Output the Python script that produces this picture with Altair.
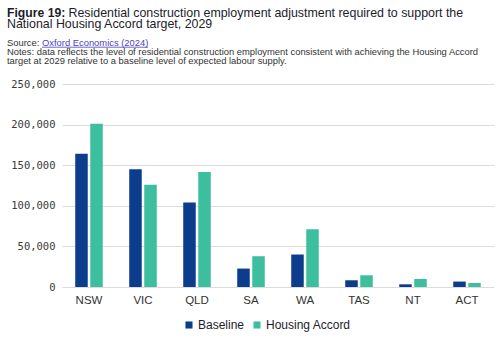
import altair as alt
import pandas as pd

# Residential construction employment by state, 2029
states = ["NSW", "VIC", "QLD", "SA", "WA", "TAS", "NT", "ACT"]
baseline = [164000, 145000, 104000, 22700, 40000, 8300, 3300, 6700]
housing_accord = [201000, 126000, 141600, 37900, 71200, 14400, 9900, 4900]
series_names = ["Baseline", "Housing Accord"]
series_colors = ["#0b3d8c", "#3dbf9f"]
y_ticks = [0, 50000, 100000, 150000, 200000, 250000]

rows = []
for s, b, h in zip(states, baseline, housing_accord):
    rows.append({"state": s, "series": series_names[0], "value": b})
    rows.append({"state": s, "series": series_names[1], "value": h})
df = pd.DataFrame(rows)

W, H = 432, 203
PAD_L, PAD_T, PAD_R, PAD_B = 62, 84, 6, 51
TXT = "#1c1c2c"
SANS = "Liberation Sans"
MONO = "DejaVu Sans Mono"

bars = alt.Chart(df).mark_bar().encode(
    x=alt.X("state:N", sort=states, title=None,
            scale=alt.Scale(paddingInner=0.49, paddingOuter=0.245),
            axis=alt.Axis(labelAngle=0, labelFont=SANS, labelFontSize=11.5,
                          labelColor="#333333", labelPadding=7, ticks=False,
                          domain=False, grid=False)),
    xOffset=alt.XOffset("series:N", sort=series_names,
                        scale=alt.Scale(paddingInner=0.167)),
    y=alt.Y("value:Q", title=None,
            scale=alt.Scale(domain=[0, 250000], nice=False),
            axis=alt.Axis(values=y_ticks, format=",d", labelFont=MONO,
                          labelFontSize=10.5, labelColor="#3a3a3a",
                          labelPadding=7, ticks=False, domain=False,
                          grid=True, gridColor="#dcdcdc", gridWidth=1)),
    color=alt.Color("series:N", sort=series_names,
                    scale=alt.Scale(domain=series_names, range=series_colors),
                    legend=alt.Legend(title=None, orient="none", direction="horizontal",
                                      legendX=121, legendY=235, symbolType="square",
                                      symbolSize=50, symbolStrokeWidth=0,
                                      labelFont=SANS, labelFontSize=12,
                                      labelColor=TXT, columnPadding=6,
                                      labelOffset=3)),
)

def txt(text, x, y, size, weight="normal", color=TXT, font=SANS):
    return alt.Chart(pd.DataFrame({"t": [text]})).mark_text(
        align="left", baseline="alphabetic", font=font, fontSize=size,
        fontWeight=weight, color=color,
    ).encode(text="t:N", x=alt.value(x), y=alt.value(y))

ox, oy = -PAD_L, -PAD_T
heading = [
    txt("Figure 19:", ox + 7, oy + 16.7, 12.2, "bold"),
    txt("Residential construction employment adjustment required to support the",
        ox + 68.5, oy + 16.7, 12.4),
    txt("National Housing Accord target, 2029", ox + 7, oy + 27.7, 12.4),
    txt("Source:", ox + 7, oy + 45.7, 9.4, color="#333333"),
    txt("Oxford Economics (2024)", ox + 42, oy + 45.7, 9.4, color="#4b3fc4"),
    txt("Notes: data reflects the level of residential construction employment consistent with achieving the Housing Accord",
        ox + 7, oy + 55, 9.4, color="#333333"),
    txt("target at 2029 relative to a baseline level of expected labour supply.",
        ox + 7, oy + 64.3, 9.4, color="#333333"),
]
link_rule = alt.Chart(pd.DataFrame({"a": [0]})).mark_rule(
    color="#4b3fc4", strokeWidth=0.8
).encode(x=alt.value(ox + 42), x2=alt.value(ox + 148), y=alt.value(oy + 47.2))

chart = alt.layer(bars, *heading, link_rule).properties(
    width=W, height=H,
    autosize=alt.AutoSizeParams(type="none"),
    padding={"left": PAD_L, "top": PAD_T, "right": PAD_R, "bottom": PAD_B},
    background="white",
).configure_view(stroke=None)

chart.save("out.html", embed_options={"renderer": "svg", "actions": False})
